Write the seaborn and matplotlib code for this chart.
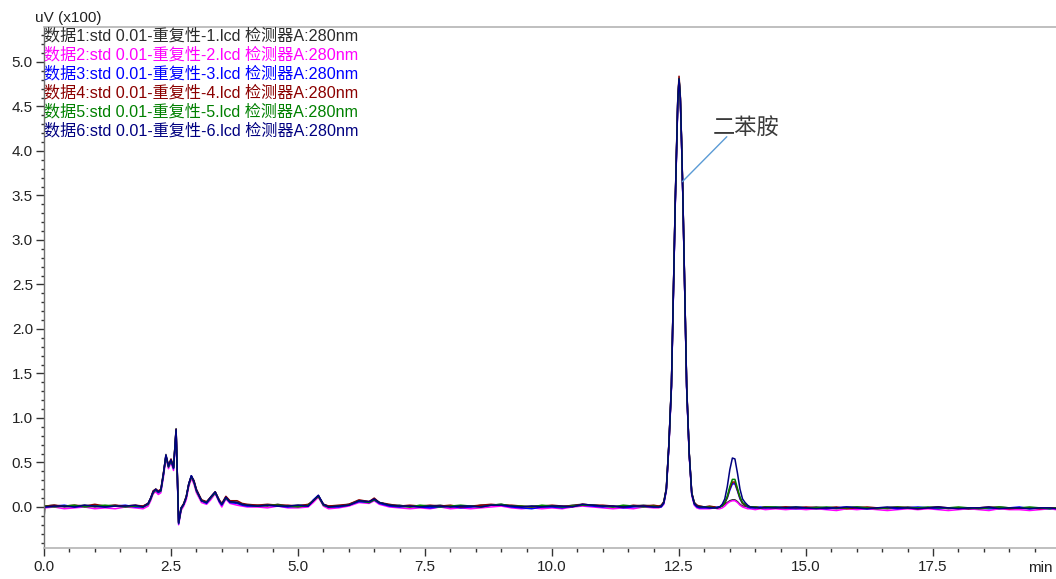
import numpy as np
import pandas as pd
import matplotlib
matplotlib.use("Agg")
import matplotlib.pyplot as plt
import seaborn as sns
from matplotlib.ticker import MultipleLocator, FormatStrFormatter

# ---------------- data ----------------
time_min = [
    0.0, 0.02, 0.2, 0.4, 0.6, 0.8, 1.0, 1.2, 1.4, 1.6, 1.8, 1.95,
    2.05, 2.1, 2.15, 2.2, 2.25, 2.3, 2.35, 2.4, 2.45, 2.5, 2.55, 2.6, 2.65, 2.7, 2.75, 2.8, 2.85, 2.9, 2.95, 3.0,
    3.1, 3.2, 3.28, 3.37, 3.45, 3.5, 3.58, 3.66, 3.8, 3.9, 4.0,
    4.2, 4.4, 4.6, 4.8, 5.0, 5.2, 5.3, 5.4, 5.5, 5.6, 5.8, 6.0, 6.2, 6.4, 6.5, 6.6, 6.8, 7.0, 7.2, 7.4, 7.6, 7.8,
    8.0, 8.2, 8.4, 8.6, 8.8, 9.0, 9.2, 9.4, 9.6, 9.8, 10.0, 10.2, 10.4, 10.6, 10.8, 11.0, 11.2, 11.4, 11.6, 11.8, 12.0,
    12.1, 12.15, 12.2, 12.25, 12.3, 12.35, 12.375, 12.4, 12.425, 12.45, 12.475, 12.5, 12.525, 12.55, 12.575, 12.6,
    12.625, 12.65, 12.7, 12.75, 12.8, 12.85, 12.9,
    13.0, 13.1, 13.2, 13.25, 13.3, 13.35, 13.4, 13.45, 13.5, 13.55, 13.6, 13.65, 13.7, 13.75, 13.8, 13.85, 13.9, 14.0, 14.1, 14.2,
    14.4, 14.6, 14.8, 15.0, 15.2, 15.4, 15.6, 15.8, 16.0, 16.2, 16.4, 16.6, 16.8, 17.0, 17.2, 17.4, 17.6, 17.8,
    18.0, 18.2, 18.4, 18.6, 18.8, 19.0, 19.2, 19.4, 19.6, 19.8, 19.92,
]

trace_1 = [
    -0.12, 0.01, 0.02, 0.0, 0.01, 0.02, 0.0, 0.01, 0.02, 0.0, 0.01, 0.01,
    0.04, 0.10, 0.18, 0.20, 0.17, 0.19, 0.37, 0.59, 0.46, 0.53, 0.44, 0.88, -0.17, -0.01, 0.03, 0.11, 0.26, 0.35, 0.29, 0.18,
    0.08, 0.05, 0.11, 0.17, 0.07, 0.03, 0.11, 0.06, 0.05, 0.03, 0.02,
    0.02, 0.01, 0.03, 0.01, 0.02, 0.02, 0.07, 0.13, 0.03, 0.01, 0.01, 0.03, 0.07, 0.06, 0.09, 0.05, 0.02, 0.02, 0.0, 0.01, 0.01, 0.02,
    0.0, 0.01, 0.0, 0.02, 0.02, 0.03, 0.01, 0.0, 0.01, 0.01, 0.01, 0.0, 0.02, 0.03, 0.02, 0.01, 0.0, 0.01, 0.01, 0.02, 0.01,
    0.01, 0.01, 0.05, 0.21, 0.70, 1.36, 2.02, 2.72, 3.42, 4.02, 4.56, 4.81, 4.60, 4.10, 3.50, 2.80,
    2.06, 1.36, 0.61, 0.16, 0.05, 0.02, 0.01,
    0.0, 0.0, 0.0, -0.01, 0.0, 0.01, 0.03, 0.05, 0.07, 0.08, 0.08, 0.06, 0.03, 0.01, 0.01, 0.0, 0.0, 0.0, -0.01, 0.0,
    -0.01, 0.0, -0.01, -0.01, 0.0, -0.01, -0.02, -0.01, 0.0, -0.01, -0.01, -0.02, -0.01, 0.0, -0.01, -0.01, 0.0, -0.02,
    -0.01, -0.01, -0.02, -0.01, 0.0, -0.01, -0.02, -0.01, -0.02, -0.01, -0.02,
]

trace_2 = [
    -0.01, -0.01, 0.0, -0.02, -0.01, 0.0, -0.02, -0.01, -0.02, 0.0, -0.01, -0.02,
    0.01, 0.07, 0.15, 0.17, 0.14, 0.16, 0.33, 0.55, 0.43, 0.50, 0.41, 0.84, -0.20, -0.04, 0.01, 0.08, 0.23, 0.32, 0.26, 0.16,
    0.05, 0.03, 0.08, 0.15, 0.05, 0.0, 0.09, 0.04, 0.02, 0.01, 0.0,
    0.0, -0.01, 0.01, -0.01, -0.01, 0.0, 0.05, 0.11, 0.01, -0.02, -0.01, 0.01, 0.05, 0.04, 0.07, 0.03, 0.0, -0.01, -0.02, -0.01, -0.02, 0.0,
    -0.02, -0.01, -0.02, -0.01, 0.0, 0.01, -0.01, -0.02, -0.01, -0.02, -0.01, -0.02, 0.0, 0.01, 0.0, -0.01, -0.02, -0.01, -0.02, 0.0, -0.01,
    -0.01, 0.0, 0.03, 0.18, 0.67, 1.33, 1.98, 2.68, 3.38, 3.98, 4.53, 4.79, 4.58, 4.08, 3.48, 2.78,
    2.03, 1.33, 0.58, 0.13, 0.02, -0.01, -0.02,
    -0.02, -0.02, -0.01, -0.02, -0.02, -0.01, 0.01, 0.04, 0.06, 0.07, 0.07, 0.05, 0.02, 0.0, -0.01, -0.02, -0.02, -0.03, -0.02, -0.03,
    -0.02, -0.03, -0.02, -0.03, -0.02, -0.03, -0.04, -0.02, -0.03, -0.02, -0.03, -0.04, -0.03, -0.02, -0.03, -0.02, -0.03, -0.04,
    -0.03, -0.02, -0.03, -0.04, -0.02, -0.03, -0.03, -0.04, -0.03, -0.02, -0.03,
]

trace_3 = [
    0.01, 0.0, 0.01, 0.02, 0.0, 0.01, 0.01, 0.0, 0.01, 0.02, 0.0, 0.0,
    0.03, 0.09, 0.17, 0.19, 0.16, 0.18, 0.36, 0.58, 0.45, 0.52, 0.43, 0.86, -0.19, -0.02, 0.03, 0.11, 0.26, 0.35, 0.29, 0.19,
    0.07, 0.04, 0.10, 0.16, 0.06, 0.02, 0.10, 0.05, 0.04, 0.02, 0.01,
    0.01, 0.02, 0.01, 0.0, 0.01, 0.01, 0.08, 0.13, 0.02, 0.0, 0.0, 0.02, 0.06, 0.05, 0.08, 0.04, 0.01, 0.0, 0.01, 0.0, -0.01, 0.0,
    0.01, -0.01, 0.0, 0.01, 0.02, 0.02, 0.0, -0.01, -0.02, 0.0, 0.0, -0.01, 0.01, 0.02, 0.01, 0.0, 0.01, -0.01, 0.0, 0.01, 0.0,
    0.0, 0.0, 0.04, 0.19, 0.69, 1.35, 2.00, 2.70, 3.40, 4.00, 4.55, 4.80, 4.59, 4.09, 3.49, 2.79,
    2.04, 1.34, 0.60, 0.15, 0.03, 0.0, -0.01,
    -0.01, -0.01, -0.01, 0.0, 0.0, 0.02, 0.05, 0.10, 0.19, 0.26, 0.26, 0.18, 0.09, 0.04, 0.02, 0.0, -0.01, -0.01, 0.0, -0.01,
    0.0, -0.01, -0.02, -0.01, -0.01, -0.02, -0.01, 0.0, -0.01, -0.02, -0.01, -0.01, -0.02, -0.01, 0.0, -0.01, -0.02, -0.01,
    -0.01, -0.02, -0.01, -0.02, -0.01, -0.01, 0.0, -0.02, -0.01, -0.02, -0.01,
]

trace_4 = [
    0.01, 0.01, 0.02, 0.01, 0.02, 0.01, 0.03, 0.01, 0.02, 0.01, 0.02, 0.01,
    0.04, 0.10, 0.18, 0.20, 0.18, 0.20, 0.38, 0.57, 0.47, 0.54, 0.45, 0.87, -0.17, -0.01, 0.04, 0.12, 0.26, 0.34, 0.30, 0.20,
    0.08, 0.06, 0.11, 0.17, 0.08, 0.04, 0.12, 0.07, 0.07, 0.04, 0.03,
    0.02, 0.03, 0.02, 0.02, 0.01, 0.03, 0.07, 0.12, 0.03, 0.01, 0.02, 0.03, 0.08, 0.06, 0.10, 0.05, 0.03, 0.01, 0.02, 0.01, 0.02, 0.01,
    0.02, 0.0, 0.01, 0.02, 0.03, 0.02, 0.02, 0.01, 0.0, 0.01, 0.02, 0.01, 0.01, 0.03, 0.02, 0.02, 0.01, 0.0, 0.02, 0.01, 0.02,
    0.01, 0.02, 0.06, 0.21, 0.71, 1.37, 2.03, 2.73, 3.43, 4.03, 4.58, 4.84, 4.62, 4.11, 3.51, 2.81,
    2.06, 1.36, 0.61, 0.16, 0.05, 0.02, 0.01,
    0.0, 0.01, 0.0, -0.01, 0.0, 0.02, 0.04, 0.11, 0.21, 0.28, 0.28, 0.19, 0.10, 0.04, 0.02, 0.01, 0.0, 0.0, -0.01, 0.0,
    -0.01, 0.0, -0.01, 0.0, -0.01, -0.01, 0.0, -0.02, -0.01, 0.0, -0.01, -0.01, 0.0, -0.01, -0.02, -0.01, 0.0, -0.01,
    -0.01, -0.02, -0.01, 0.0, -0.01, -0.02, -0.01, -0.01, -0.02, -0.01, -0.01,
]

trace_5 = [
    0.0, 0.01, 0.0, 0.01, 0.02, 0.0, 0.01, 0.02, 0.01, 0.0, 0.01, 0.0,
    0.03, 0.09, 0.16, 0.19, 0.17, 0.18, 0.36, 0.57, 0.45, 0.52, 0.44, 0.86, -0.18, -0.02, 0.03, 0.11, 0.25, 0.34, 0.28, 0.18,
    0.07, 0.05, 0.10, 0.16, 0.07, 0.03, 0.10, 0.06, 0.05, 0.03, 0.02,
    0.01, 0.02, 0.02, 0.01, 0.0, 0.02, 0.07, 0.12, 0.02, 0.0, 0.01, 0.02, 0.07, 0.05, 0.08, 0.05, 0.02, 0.01, 0.0, 0.02, 0.01, 0.0,
    0.01, 0.02, 0.01, 0.0, 0.02, 0.03, 0.01, 0.01, 0.0, 0.02, 0.01, 0.0, 0.01, 0.02, 0.02, 0.01, 0.0, 0.02, 0.01, 0.0, 0.01,
    0.0, 0.01, 0.05, 0.20, 0.70, 1.35, 2.01, 2.71, 3.41, 4.01, 4.56, 4.81, 4.60, 4.10, 3.50, 2.80,
    2.05, 1.35, 0.60, 0.15, 0.04, 0.01, 0.0,
    0.0, 0.0, -0.01, -0.01, 0.0, 0.01, 0.05, 0.12, 0.23, 0.31, 0.31, 0.21, 0.11, 0.05, 0.03, 0.01, 0.0, 0.0, -0.01, 0.0,
    0.0, -0.01, 0.0, -0.01, -0.01, 0.0, -0.01, -0.01, 0.0, -0.01, -0.02, -0.01, 0.0, -0.01, -0.01, 0.0, -0.01, -0.01,
    0.0, -0.01, -0.02, -0.01, 0.0, -0.01, -0.01, 0.0, -0.01, -0.02, -0.01,
]

trace_6 = [
    0.01, 0.0, 0.01, 0.01, 0.0, 0.02, 0.01, 0.0, 0.01, 0.01, 0.02, 0.0,
    0.04, 0.10, 0.17, 0.20, 0.17, 0.19, 0.37, 0.58, 0.46, 0.53, 0.44, 0.87, -0.18, -0.01, 0.03, 0.11, 0.26, 0.35, 0.29, 0.19,
    0.07, 0.05, 0.11, 0.17, 0.07, 0.03, 0.11, 0.06, 0.05, 0.03, 0.02,
    0.01, 0.02, 0.01, 0.01, 0.02, 0.01, 0.07, 0.13, 0.03, 0.0, 0.01, 0.02, 0.07, 0.06, 0.09, 0.05, 0.02, 0.01, 0.01, 0.0, 0.01, 0.01,
    0.0, 0.01, 0.01, 0.0, 0.02, 0.02, 0.01, 0.0, 0.01, 0.0, 0.01, 0.01, 0.0, 0.03, 0.02, 0.01, 0.01, 0.0, 0.01, 0.01, 0.0,
    0.0, 0.01, 0.05, 0.20, 0.70, 1.36, 2.01, 2.71, 3.41, 4.01, 4.56, 4.81, 4.60, 4.10, 3.50, 2.80,
    2.05, 1.35, 0.60, 0.15, 0.04, 0.01, 0.0,
    0.0, -0.01, -0.01, -0.01, 0.0, 0.03, 0.09, 0.23, 0.42, 0.55, 0.54, 0.38, 0.20, 0.09, 0.05, 0.02, 0.0, -0.01, -0.01, -0.01,
    -0.01, -0.01, 0.0, -0.01, -0.02, -0.01, -0.01, 0.0, -0.01, -0.02, -0.01, 0.0, -0.01, -0.01, -0.02, -0.01, 0.0, -0.01,
    -0.02, -0.01, -0.01, 0.0, -0.02, -0.01, -0.01, -0.02, -0.01, -0.01, -0.02,
]

series_names = ["数据1", "数据2", "数据3", "数据4", "数据5", "数据6"]
series_values = [trace_1, trace_2, trace_3, trace_4, trace_5, trace_6]
series_colors = ["#2b2b2b", "#ff00ff", "#0000ff", "#8b0000", "#008000", "#000080"]
legend_labels = [
    "数据1:std 0.01-重复性-1.lcd 检测器A:280nm",
    "数据2:std 0.01-重复性-2.lcd 检测器A:280nm",
    "数据3:std 0.01-重复性-3.lcd 检测器A:280nm",
    "数据4:std 0.01-重复性-4.lcd 检测器A:280nm",
    "数据5:std 0.01-重复性-5.lcd 检测器A:280nm",
    "数据6:std 0.01-重复性-6.lcd 检测器A:280nm",
]
y_unit_label = "uV (x100)"
x_unit_label = "min"
peak_label = "二苯胺"
peak_point = (12.565, 3.655)      # where the leader line touches the peak
peak_label_anchor = (13.44, 4.16)  # upper end of the leader line
peak_label_pos = (13.16, 4.26)

x_major = [0.0, 2.5, 5.0, 7.5, 10.0, 12.5, 15.0, 17.5]
y_major = [0.0, 0.5, 1.0, 1.5, 2.0, 2.5, 3.0, 3.5, 4.0, 4.5, 5.0]

# ---------------- build long-form table ----------------
df = pd.concat(
    [pd.DataFrame({"time": time_min, "signal": vals, "series": name})
     for name, vals in zip(series_names, series_values)],
    ignore_index=True,
)

sns.set_style("white")
plt.rcParams["font.family"] = ["Liberation Sans", "Noto Sans CJK SC", "DejaVu Sans"]

W, H = 1056, 579
fig = plt.figure(figsize=(W / 100, H / 100), dpi=100)
ax = fig.add_axes([44 / W, 31 / H, (W - 44) / W, 521 / H])

sns.lineplot(
    data=df, x="time", y="signal", hue="series", hue_order=series_names,
    palette=dict(zip(series_names, series_colors)), estimator=None, sort=False,
    linewidth=1.1, legend=False, ax=ax,
)

ax.set_xlim(0, 19.92)
ax.set_ylim(-0.461, 5.393)
ax.set_xlabel("")
ax.set_ylabel("")

ax.set_xticks(x_major)
ax.set_yticks(y_major)
ax.xaxis.set_minor_locator(MultipleLocator(0.5))
ax.yaxis.set_minor_locator(MultipleLocator(0.1))
ax.xaxis.set_major_formatter(FormatStrFormatter("%.1f"))
ax.yaxis.set_major_formatter(FormatStrFormatter("%.1f"))
ax.tick_params(axis="both", which="both", direction="out", colors="#333333",
               labelcolor="#222222", labelsize=11, width=1)
ax.tick_params(axis="y", which="major", length=6, pad=2)
ax.tick_params(axis="y", which="minor", length=2.5)
ax.tick_params(axis="x", which="major", length=5.5, pad=3)
ax.tick_params(axis="x", which="minor", length=3)
ax.tick_params(left=True, bottom=True, right=False, top=False, which="both")

for side in ["top", "bottom"]:
    ax.spines[side].set_color("#b4b4b4")
    ax.spines[side].set_linewidth(1.2)
ax.spines["left"].set_color("#707070")
ax.spines["left"].set_linewidth(1.0)
ax.spines["right"].set_visible(False)

# axis unit labels
fig.text(35 / W, 1 - 18 / H, y_unit_label, ha="left", va="center", fontsize=11, color="#222222")
ax.text(19.36, -0.685, x_unit_label, ha="left", va="center", fontsize=11, color="#222222",
        clip_on=False)

# legend text block (top-left)
for i, (lab, col) in enumerate(zip(legend_labels, series_colors)):
    y_px = 35.5 + 19.1 * i
    fig.text(44 / W, 1 - y_px / H, lab, ha="left", va="center", fontsize=11.6, color=col)

# peak annotation
ax.plot([peak_point[0], peak_label_anchor[0]], [peak_point[1], peak_label_anchor[1]],
        color="#5b9bd5", linewidth=1.0)
ax.text(peak_label_pos[0], peak_label_pos[1], peak_label, ha="left", va="center",
        fontsize=16, color="#3a3a3a", fontfamily=["Noto Sans CJK SC"], fontweight="light")

fig.savefig("out.png", dpi=100)
